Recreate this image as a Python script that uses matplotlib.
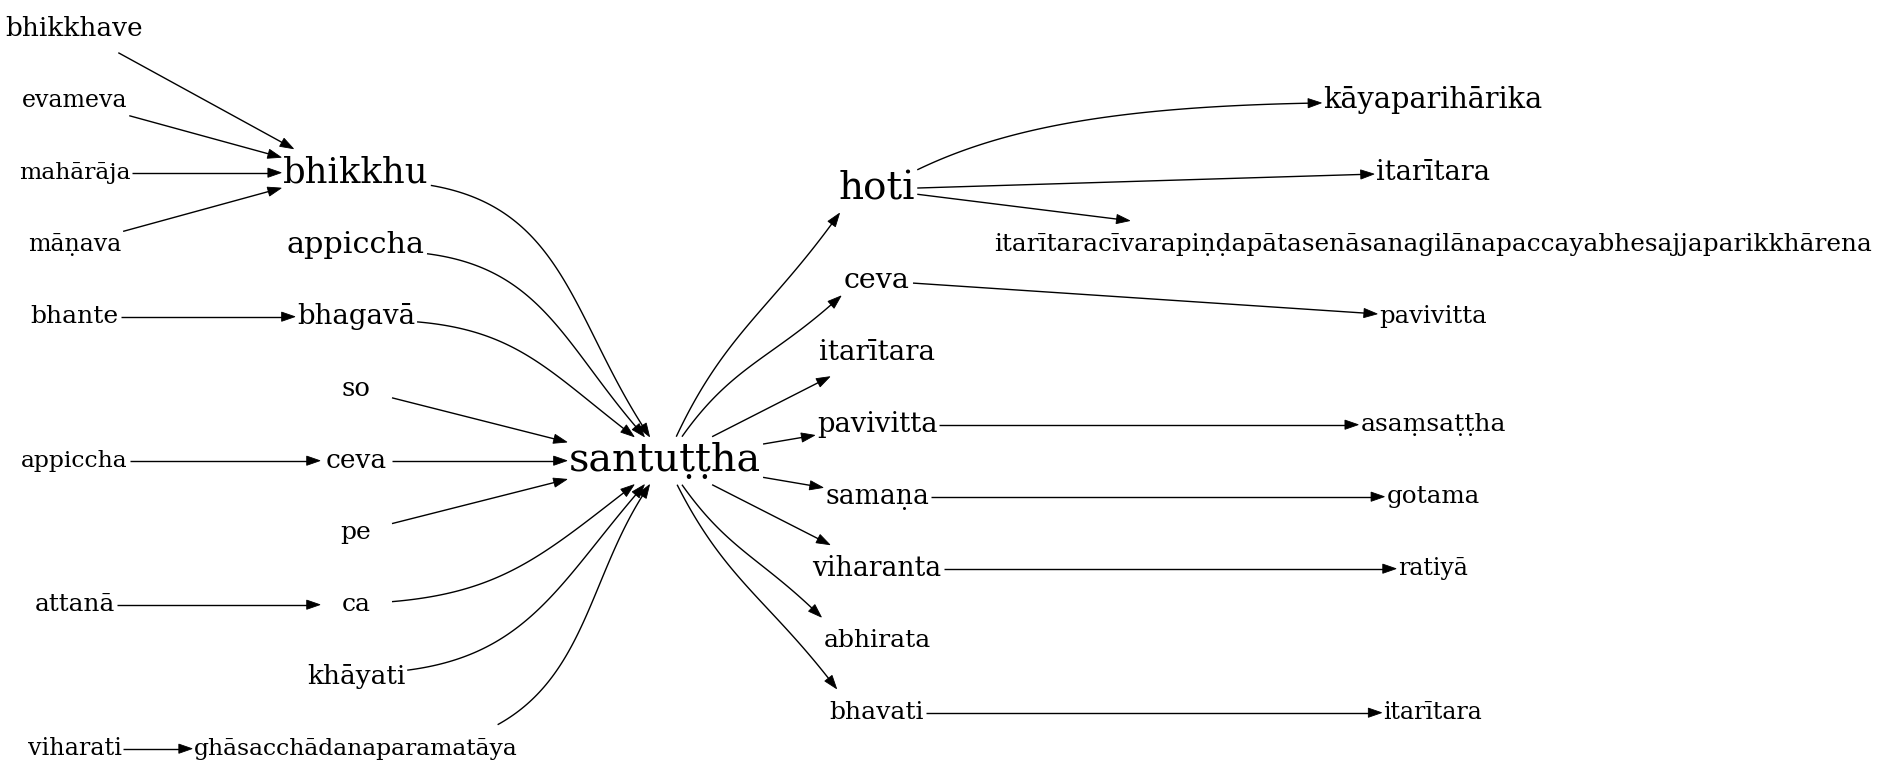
import numpy as np
import matplotlib
matplotlib.use("Agg")
import matplotlib.pyplot as plt
from matplotlib.patches import Polygon

# word graph: nodes (ids are unique, labels repeat), font size ~ word weight
node_ids = ["bhikkhave", "evameva", "maharaja", "manava", "bhante", "appiccha_1", "attana", "viharati",
            "bhikkhu", "appiccha", "bhagava", "so", "ceva_1", "pe", "ca", "khayati", "ghasa",
            "santuttha",
            "hoti", "ceva_2", "itaritara_1", "pavivitta_1", "samana", "viharanta", "abhirata", "bhavati",
            "kayapariharika", "itaritara_2", "itaritara_long", "pavivitta_2", "asamsattha", "gotama",
            "ratiya", "itaritara_3"]
node_labels = ["bhikkhave", "evameva", "mahārāja", "māṇava", "bhante", "appiccha", "attanā", "viharati",
               "bhikkhu", "appiccha", "bhagavā", "so", "ceva", "pe", "ca", "khāyati",
               "ghāsacchādanaparamatāya",
               "santuṭṭha",
               "hoti", "ceva", "itarītara", "pavivitta", "samaṇa", "viharanta", "abhirata", "bhavati",
               "kāyaparihārika", "itarītara",
               "itarītaracīvarapiṇḍapātasenāsanagilānapaccayabhesajjaparikkhārena",
               "pavivitta", "asaṃsaṭṭha", "gotama", "ratiyā", "itarītara"]
node_fontsize = [19.0, 17.1, 16.8, 17.0, 18.0, 16.9, 17.8, 17.2,
                 25.5, 21.8, 19.9, 18.7, 19.0, 18.0, 18.0, 19.0, 16.9,
                 28.6,
                 28.0, 20.5, 19.9, 19.8, 19.2, 19.2, 18.0, 18.0,
                 20.7, 19.6, 17.8, 17.5, 18.0, 17.7, 17.0, 17.0]
node_rank = [0] * 8 + [1] * 9 + [2] + [3] * 8 + [4] * 8
node_row = [0, 1, 2, 3, 4, 6, 8, 10,
            2, 3, 4, 5, 6, 7, 8, 9, 10,
            6,
            2.23, 3.5, 4.5, 5.5, 6.5, 7.5, 8.5, 9.5,
            1, 2, 3, 4, 5.5, 6.5, 7.5, 9.5]

edges = [("bhikkhave", "bhikkhu"), ("evameva", "bhikkhu"), ("maharaja", "bhikkhu"), ("manava", "bhikkhu"),
         ("bhante", "bhagava"), ("appiccha_1", "ceva_1"), ("attana", "ca"), ("viharati", "ghasa"),
         ("bhikkhu", "santuttha"), ("appiccha", "santuttha"), ("bhagava", "santuttha"),
         ("so", "santuttha"), ("ceva_1", "santuttha"), ("pe", "santuttha"), ("ca", "santuttha"),
         ("khayati", "santuttha"), ("ghasa", "santuttha"),
         ("santuttha", "hoti"), ("santuttha", "ceva_2"), ("santuttha", "itaritara_1"),
         ("santuttha", "pavivitta_1"), ("santuttha", "samana"), ("santuttha", "viharanta"),
         ("santuttha", "abhirata"), ("santuttha", "bhavati"),
         ("hoti", "kayapariharika"), ("hoti", "itaritara_2"), ("hoti", "itaritara_long"),
         ("ceva_2", "pavivitta_2"), ("pavivitta_1", "asamsattha"), ("samana", "gotama"),
         ("viharanta", "ratiya"), ("bhavati", "itaritara_3")]

HUB = "santuttha"

# layout (pixels, y downwards)
W, H = 1881, 779
rank_x = [74.5, 356, 665, 877, 1433]
ROW0, ROW_STEP = 28.7, 72
HALF_H = 24          # node boxes are 0.5in tall
MIN_HALF_W = 36      # and at least 0.75in wide
ARROW_LEN, ARROW_HW = 13.3, 4.6

fig = plt.figure(figsize=(W / 100, H / 100), dpi=100, facecolor="white")
ax = fig.add_axes([0, 0, 1, 1])
ax.set_xlim(0, W)
ax.set_ylim(H, 0)
ax.axis("off")

renderer = fig.canvas.get_renderer()
nodes = {}
for nid, lab, fs, rk, rw in zip(node_ids, node_labels, node_fontsize, node_rank, node_row):
    cx = rank_x[rk]
    cy = ROW0 + ROW_STEP * rw
    em = fs * 100 / 72
    t = ax.text(cx, cy + 0.27 * em, lab, fontsize=fs, family="DejaVu Serif",
                ha="center", va="baseline", color="black")
    w = t.get_window_extent(renderer).width
    nodes[nid] = dict(c=np.array([cx, cy]), hw=max(MIN_HALF_W, w / 2 + 2), hh=HALF_H)


def exit_point(n, p_in, d):
    """where the ray p_in + t*d leaves the box of node n"""
    ts = []
    for i, half in ((0, n["hw"]), (1, n["hh"])):
        if d[i] > 1e-9:
            ts.append((n["c"][i] + half - p_in[i]) / d[i])
        elif d[i] < -1e-9:
            ts.append((n["c"][i] - half - p_in[i]) / d[i])
    return p_in + min(ts) * d


def attach(n, toward, k):
    """point on the box of node n along a ray aimed at `toward` (dx squeezed by k)"""
    d = np.array(toward, float) - n["c"]
    d[0] *= k
    return exit_point(n, n["c"], d), d / np.linalg.norm(d)


def arrowhead(tip, u):
    u = u / np.linalg.norm(u)
    nrm = np.array([-u[1], u[0]])
    base = tip - u * ARROW_LEN
    pts = [tip, base + nrm * ARROW_HW, base - nrm * ARROW_HW]
    ax.add_patch(Polygon(pts, closed=True, fc="black", ec="black", lw=0.6, zorder=3))


def bezier(p0, p1, p2, p3, n=80):
    tt = np.linspace(0, 1, n)[:, None]
    return ((1 - tt) ** 3 * p0 + 3 * (1 - tt) ** 2 * tt * p1
            + 3 * (1 - tt) * tt ** 2 * p2 + tt ** 3 * p3)


for s, e in edges:
    a, b = nodes[s], nodes[e]
    dy = b["c"][1] - a["c"][1]
    curved = (HUB in (s, e) and abs(dy) > 120) or (s, e) == ("hoti", "kayapariharika")
    if not curved:
        # straight: aim a little left of the head's centre (not for the hub's fan-out)
        shift = 0.0 if s == HUB else 0.25 * b["hw"]
        aim = b["c"] - np.array([shift, 0])
        d = aim - a["c"]
        p0 = exit_point(a, a["c"], d)
        p3 = exit_point(b, aim, -d)
        u = (p3 - p0) / np.linalg.norm(p3 - p0)
        end = p3 - u * ARROW_LEN * 0.8
        ax.plot([p0[0], end[0]], [p0[1], end[1]], color="black", lw=1.0, solid_capstyle="butt")
        arrowhead(p3, u)
        continue

    if s == HUB:
        k0, k3, c0, c3 = 0.6, 2.0, 0.4, 0.4
    elif e == HUB:
        k0, k3, c0, c3 = 5.5, 0.6, 0.4, 0.4
    else:
        k0, k3, c0, c3 = 0.33, 8.0, 0.25, 0.45
    p0, t0 = attach(a, b["c"], k0)
    p3, r3 = attach(b, a["c"], k3)
    chord = (p3 - p0) / np.linalg.norm(p3 - p0)
    t3 = -r3
    if s == HUB:
        t3 = chord
    # tail leaving through the top/bottom of a wide box: halfway between chord and horizontal
    if abs(abs(p0[1] - a["c"][1]) - a["hh"]) < 1e-6 and s != HUB:
        t0 = chord + np.array([1.0, 0.0])
        t0 = t0 / np.linalg.norm(t0)
        c0 = 0.35
        c3 = 0.35
    L = np.linalg.norm(p3 - p0)
    p1 = p0 + t0 * L * c0
    p2 = p3 - t3 * L * c3
    # stop the line under the arrowhead
    shift = t3 * ARROW_LEN * 0.8
    curve = bezier(p0, p1, p2 - shift, p3 - shift)
    ax.plot(curve[:, 0], curve[:, 1], color="black", lw=1.0, solid_capstyle="butt")
    arrowhead(p3, p3 - p2)

fig.savefig("out.png", dpi=100, facecolor="white")
